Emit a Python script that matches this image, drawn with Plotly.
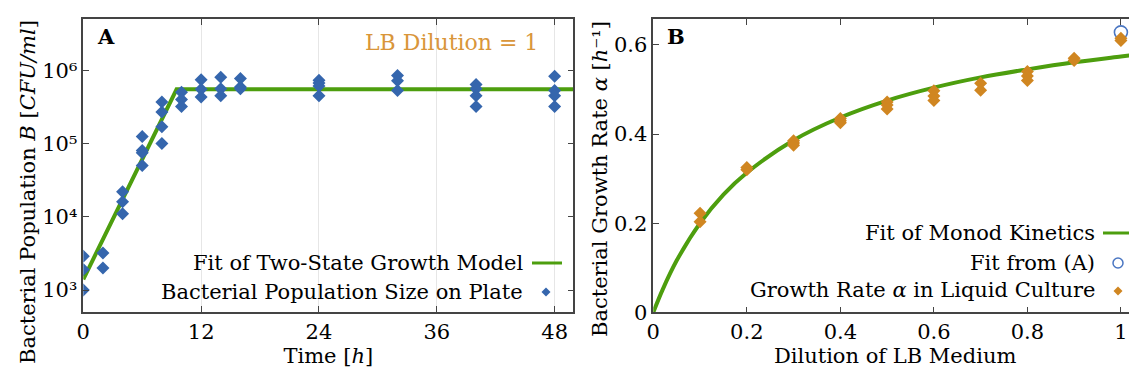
import plotly.graph_objects as go

# ---------------- Panel A data ----------------
time_h = [0, 0, 0, 2, 2, 4, 4, 4, 6, 6, 6, 6, 8, 8, 8, 8, 10, 10, 10,
          12, 12, 12, 14, 14, 14, 16, 16, 16, 24, 24, 24, 24,
          32, 32, 32, 40, 40, 40, 40, 48, 48, 48, 48]
population = [2900, 1900, 1000, 3200, 2000, 22000, 16000, 11000,
              125000, 80000, 75000, 50000, 370000, 270000, 170000, 100000,
              500000, 400000, 320000, 740000, 550000, 430000,
              800000, 560000, 450000, 770000, 590000, 560000,
              730000, 670000, 610000, 450000, 850000, 720000, 530000,
              640000, 560000, 450000, 320000, 830000, 530000, 450000, 320000]
fit_time = [0, 9.5, 50]
fit_population = [1400, 550000, 550000]
x_ticks_a = [0, 12, 24, 36, 48]
y_ticks_a = [1e3, 1e4, 1e5, 1e6]
y_ticklabels_a = ["10³", "10⁴", "10⁵", "10⁶"]

# ---------------- Panel B data ----------------
dilution = [0.1, 0.1, 0.2, 0.2, 0.3, 0.3, 0.3, 0.4, 0.4, 0.4,
            0.5, 0.5, 0.5, 0.6, 0.6, 0.6, 0.7, 0.7, 0.8, 0.8, 0.8,
            0.9, 0.9, 1.0, 1.0]
growth_rate = [0.222, 0.203, 0.325, 0.320, 0.385, 0.380, 0.375, 0.435, 0.430, 0.425,
               0.472, 0.465, 0.456, 0.497, 0.485, 0.475, 0.514, 0.498, 0.540, 0.530, 0.520,
               0.570, 0.565, 0.615, 0.610]
fit_a_dilution = [1.0]
fit_a_rate = [0.628]
monod_dilution = [0, 0.02, 0.05, 0.1, 0.15, 0.2, 0.3, 0.4, 0.5, 0.6, 0.7, 0.8, 0.9, 1.0, 1.04]
monod_rate = [0, 0.051, 0.116, 0.200, 0.264, 0.313, 0.386, 0.437, 0.475, 0.504,
              0.527, 0.545, 0.561, 0.574, 0.579]
x_ticks_b = [0, 0.2, 0.4, 0.6, 0.8, 1.0]
x_ticklabels_b = ["0", "0.2", "0.4", "0.6", "0.8", "1"]
y_ticks_b = [0, 0.2, 0.4, 0.6]
y_ticklabels_b = ["0", "0.2", "0.4", "0.6"]

BLUE = "#3566ad"
CIRCLE_BLUE = "#4a76c2"
GREEN = "#4d9e0e"
ORANGE = "#d08621"
FONT = "DejaVu Serif"
TICK_SIZE = 21
TEXT_SIZE = 21
OFF = 8                    # page body margin of the html
W, H = 1137 - OFF, 381 - OFF

fig = go.Figure()

# Panel A traces
fig.add_trace(go.Scatter(x=fit_time, y=fit_population, mode="lines",
                         line=dict(color=GREEN, width=4), xaxis="x", yaxis="y",
                         showlegend=False, name="Fit of Two-State Growth Model"))
fig.add_trace(go.Scatter(x=time_h, y=population, mode="markers",
                         marker=dict(symbol="diamond", size=10, color=BLUE),
                         xaxis="x", yaxis="y", showlegend=False,
                         name="Bacterial Population Size on Plate"))

# Panel B traces
fig.add_trace(go.Scatter(x=monod_dilution, y=monod_rate, mode="lines", line_shape="spline",
                         line=dict(color=GREEN, width=4), xaxis="x2", yaxis="y2",
                         showlegend=False, name="Fit of Monod Kinetics"))
fig.add_trace(go.Scatter(x=fit_a_dilution, y=fit_a_rate, mode="markers",
                         marker=dict(symbol="circle-open", size=13, color=CIRCLE_BLUE,
                                     line=dict(width=1.6)),
                         xaxis="x2", yaxis="y2", showlegend=False, name="Fit from (A)"))
fig.add_trace(go.Scatter(x=dilution, y=growth_rate, mode="markers",
                         marker=dict(symbol="diamond", size=10, color=ORANGE),
                         xaxis="x2", yaxis="y2", showlegend=False,
                         name="Growth Rate α in Liquid Culture"))


def px_x(p):
    return (p - OFF) / W


def px_y(p):
    return (H - (p - OFF)) / H


axis_common = dict(showline=True, linecolor="#444444", linewidth=1.5, ticks="inside",
                   ticklen=6, tickcolor="#444444", tickwidth=1.3,
                   tickfont=dict(family=FONT, size=TICK_SIZE, color="black"),
                   zeroline=False, automargin=False)

fig.update_layout(
    width=W, height=H,
    margin=dict(l=0, r=0, t=0, b=0),
    paper_bgcolor="white", plot_bgcolor="white",
    font=dict(family=FONT, size=TEXT_SIZE, color="black"),
    showlegend=False,
    xaxis=dict(domain=[px_x(83.3), px_x(573.3)], range=[0, 49.9], anchor="y",
               tickvals=x_ticks_a, mirror="ticks", showgrid=True, gridcolor="#e6e6e6",
               gridwidth=1,
               title=dict(text="Time [<i>h</i>]", font=dict(family=FONT, size=TEXT_SIZE),
                          standoff=2),
               **axis_common),
    yaxis=dict(domain=[px_y(312), px_y(19)], type="log", range=[2.70, 6.70], anchor="x",
               tickvals=y_ticks_a, ticktext=y_ticklabels_a, mirror="ticks", showgrid=False,
               **axis_common),
    xaxis2=dict(domain=[px_x(653.3), 1.0], range=[0, 1.0344], anchor="y2",
                tickvals=x_ticks_b, ticktext=x_ticklabels_b, mirror="ticks", showgrid=False,
                title=dict(text="Dilution of LB Medium", font=dict(family=FONT, size=TEXT_SIZE),
                           standoff=2),
                **axis_common),
    yaxis2=dict(domain=[px_y(312.3), px_y(19)], range=[0, 0.658], anchor="x2",
                tickvals=y_ticks_b, ticktext=y_ticklabels_b, mirror=False, showgrid=False,
                **axis_common),
)

annotations = [
    dict(text="<b>A</b>", x=px_x(95), y=px_y(36), xanchor="left", yanchor="middle",
         font=dict(family=FONT, size=21)),
    dict(text="<b>B</b>", x=px_x(665), y=px_y(36), xanchor="left", yanchor="middle",
         font=dict(family=FONT, size=21)),
    dict(text="LB Dilution = 1", x=px_x(451), y=px_y(43), xanchor="center", yanchor="middle",
         font=dict(family=FONT, size=22, color="#d9963a")),
    dict(text="Bacterial Population <i>B</i> [<i>CFU/ml</i>]", x=px_x(28), y=px_y(192),
         textangle=-90, xanchor="center", yanchor="middle",
         font=dict(family=FONT, size=TEXT_SIZE)),
    dict(text="Bacterial Growth Rate <i>α</i> [<i>h</i>⁻¹]", x=px_x(600),
         y=px_y(179), textangle=-90, xanchor="center", yanchor="middle",
         font=dict(family=FONT, size=TEXT_SIZE)),
    dict(text="Fit of Two-State Growth Model", x=px_x(525), y=px_y(262.7), xanchor="right",
         yanchor="middle", font=dict(family=FONT, size=TEXT_SIZE)),
    dict(text="Bacterial Population Size on Plate", x=px_x(525), y=px_y(291.7),
         xanchor="right", yanchor="middle", font=dict(family=FONT, size=TEXT_SIZE)),
    dict(text="Fit of Monod Kinetics", x=px_x(1097), y=px_y(232.7), xanchor="right",
         yanchor="middle", font=dict(family=FONT, size=TEXT_SIZE)),
    dict(text="Fit from (A)", x=px_x(1097), y=px_y(263.3), xanchor="right",
         yanchor="middle", font=dict(family=FONT, size=TEXT_SIZE)),
    dict(text="Growth Rate <i>α</i> in Liquid Culture", x=px_x(1097), y=px_y(290),
         xanchor="right", yanchor="middle", font=dict(family=FONT, size=TEXT_SIZE)),
]
for a in annotations:
    a.update(xref="paper", yref="paper", showarrow=False)


# legend keys drawn as paper-space shapes (symbols sit to the right of the labels)
def diamond_path(cx, cy, r):
    return (f"M{px_x(cx)},{px_y(cy - r)} L{px_x(cx + r)},{px_y(cy)} "
            f"L{px_x(cx)},{px_y(cy + r)} L{px_x(cx - r)},{px_y(cy)} Z")


shapes = [
    dict(type="line", x0=px_x(532), x1=px_x(562), y0=px_y(263), y1=px_y(263),
         line=dict(color=GREEN, width=3)),
    dict(type="path", path=diamond_path(546, 292, 4.5), fillcolor=BLUE,
         line=dict(color=BLUE, width=0)),
    dict(type="line", x0=px_x(1103), x1=px_x(1133), y0=px_y(233), y1=px_y(233),
         line=dict(color=GREEN, width=3)),
    dict(type="circle", x0=px_x(1113), x1=px_x(1123), y0=px_y(268), y1=px_y(258),
         line=dict(color=CIRCLE_BLUE, width=1.5), fillcolor="rgba(0,0,0,0)"),
    dict(type="path", path=diamond_path(1118, 291, 4.5), fillcolor=ORANGE,
         line=dict(color=ORANGE, width=0)),
]
for s in shapes:
    s.update(xref="paper", yref="paper")

fig.update_layout(annotations=annotations, shapes=shapes)

fig.write_html("out.html")
